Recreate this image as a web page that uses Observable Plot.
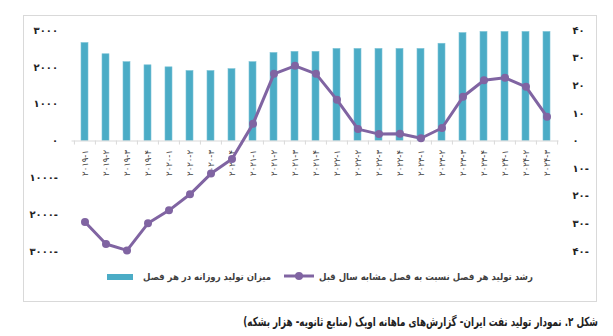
<!DOCTYPE html>
<html><head><meta charset="utf-8">
<script src="https://cdn.jsdelivr.net/npm/d3@7"></script>
<script src="https://cdn.jsdelivr.net/npm/@observablehq/plot@0.6"></script>
<style>
body{margin:0;background:#fff;font-family:"DejaVu Sans Condensed","DejaVu Sans",sans-serif}
#wrap{position:relative;width:613px;height:336px;overflow:hidden;background:#fff}
#frame{position:absolute;left:23px;top:15px;width:574px;height:287px;border:1px solid #d9d9d9;box-sizing:border-box}
#chart{position:absolute;left:0;top:0}
.lg{position:absolute;font-size:9.5px;font-weight:bold;color:#404040;direction:rtl;white-space:nowrap;line-height:12px}
#capsvg{position:absolute;left:0;top:306px}
</style></head>
<body>
<div id="wrap">
  <div id="frame"></div>
  <div id="chart"></div>
  <svg style="position:absolute;left:105px;top:272px" width="30" height="10"><rect x="2" y="2" width="26" height="6" fill="#4bacc6"/></svg>
  <div class="lg" style="left:143px;top:271px">میزان تولید روزانه در هر فصل</div>
  <svg style="position:absolute;left:282px;top:269px" width="34" height="14"><line x1="2" y1="7" x2="32" y2="7" stroke="#8064a2" stroke-width="3"/><circle cx="17" cy="7" r="4" fill="#8064a2"/></svg>
  <div class="lg" style="left:319px;top:271px">رشد تولید هر فصل نسبت به فصل مشابه سال قبل</div>
  <svg id="capsvg" width="613" height="30"><text id="cap" direction="rtl" text-anchor="start" font-size="12.5" font-weight="bold" fill="#222" font-family="DejaVu Sans Condensed, DejaVu Sans, sans-serif">شکل ۲. نمودار تولید نفت ایران- گزارش‌های ماهانه اوپک (منابع ثانویه- هزار بشکه)</text></svg>
</div>
<script>
const quarters = ["۲۰۱۹-۱","۲۰۱۹-۲","۲۰۱۹-۳","۲۰۱۹-۴","۲۰۲۰-۱","۲۰۲۰-۲","۲۰۲۰-۳","۲۰۲۰-۴","۲۰۲۱-۱","۲۰۲۱-۲","۲۰۲۱-۳","۲۰۲۱-۴","۲۰۲۲-۱","۲۰۲۲-۲","۲۰۲۲-۳","۲۰۲۲-۴","۲۰۲۳-۱","۲۰۲۳-۲","۲۰۲۳-۳","۲۰۲۳-۴","۲۰۲۴-۱","۲۰۲۴-۲","۲۰۲۴-۳"];
const production = [2660,2355,2140,2055,2000,1900,1900,1950,2140,2390,2420,2420,2500,2500,2500,2500,2500,2640,2930,2960,2960,2960,2960];
const growth = [-29.3,-37.3,-39.6,-29.8,-25.1,-19.3,-11.8,-6.5,6.2,24.3,27.2,24.3,14.9,4.3,2.5,2.6,1.0,4.7,16,22,22.9,19.6,8.8];
const leftTicks = [-3000,-2000,-1000,0,1000,2000,3000];
const rightTicks = [-40,-30,-20,-10,0,10,20,30,40];
const ratio = 3000/40;

const fa = v => { const s = String(Math.abs(v)).replace(/\d/g, c => "۰۱۲۳۴۵۶۷۸۹"[c]); return v < 0 ? s + "-" : s; };
const data = quarters.map((q,i) => ({q, p: production[i], g: growth[i]}));

const W = 613, ML = 71.5, MR = 54.5;
const step = (W - ML - MR) / quarters.length;

const plot = Plot.plot({
  width: W, height: 262,
  marginTop: 30, marginBottom: 11, marginLeft: ML, marginRight: MR,
  x: {domain: quarters, paddingInner: 0.67, paddingOuter: 0.335, axis: null},
  y: {domain: [-3000, 3000], axis: null},
  style: {fontFamily: "DejaVu Sans, sans-serif", background: "transparent"},
  marks: [
    Plot.barY(data, {x: "q", y: "p", fill: "#4bacc6", stroke: "#7cc3d6", strokeWidth: 0.6}),
    Plot.ruleY([0], {stroke: "#d9d9d9", strokeWidth: 1}),
    Plot.ruleX(quarters, {x: d => d, y1: 0, y2: -110, dx: -step/2, stroke: "#d9d9d9"}),
    Plot.ruleX([quarters[quarters.length-1]], {x: d => d, y1: 0, y2: -110, dx: step/2, stroke: "#d9d9d9"}),
    Plot.text(data, {x: "q", y: d => 0, text: "q", rotate: -90, textAnchor: "end", dy: 9, fontSize: 8.5, fill: "#404040"}),
    Plot.line(data, {x: "q", y: d => d.g * ratio, stroke: "#8064a2", strokeWidth: 3}),
    Plot.dot(data, {x: "q", y: d => d.g * ratio, r: 4, fill: "#8064a2"}),
    Plot.axisY({anchor: "left", ticks: leftTicks, tickFormat: fa, tickSize: 0, tickPadding: 14, label: null, fontSize: 10, fontWeight: "bold", fill: "#222"}),
    Plot.axisY({anchor: "right", ticks: rightTicks.map(v => v * ratio), tickFormat: v => fa(Math.round(v / ratio)), tickSize: 0, tickPadding: 13.5, label: null, fontSize: 10, fontWeight: "bold", fill: "#222"})
  ]
});
document.getElementById("chart").appendChild(plot);

const cap = document.getElementById("cap");
const len = cap.getComputedTextLength();
const s = Math.min(1, 355 / len);
cap.setAttribute("transform", `translate(598,20) scale(${s},1)`);
</script>
</body></html>
